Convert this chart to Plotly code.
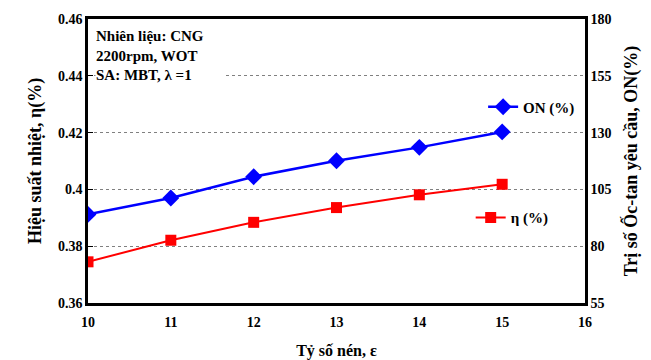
import plotly.graph_objects as go

compression_ratio = [10, 11, 12, 13, 14, 15]
efficiency = [0.3745, 0.3821, 0.3884, 0.3936, 0.3981, 0.4018]
octane_number = [94.0, 101.2, 110.6, 117.6, 123.5, 130.3]

left_ticks = [0.36, 0.38, 0.4, 0.42, 0.44, 0.46]
left_ticktext = ["0.36", "0.38", "0.4", "0.42", "0.44", "0.46"]
right_ticks = [55, 80, 105, 130, 155, 180]
x_ticks = [10, 11, 12, 13, 14, 15, 16]

FONT = "Liberation Serif"

fig = go.Figure()
fig.add_trace(go.Scatter(
    x=compression_ratio, y=octane_number, yaxis="y2", name="ON (%)",
    mode="lines+markers",
    line=dict(color="#0000FF", width=2.5),
    marker=dict(symbol="diamond", size=13, color="#0000FF"),
    legend="legend", showlegend=True,
))
fig.add_trace(go.Scatter(
    x=compression_ratio, y=efficiency, yaxis="y", name="η (%)",
    mode="lines+markers",
    line=dict(color="#FF0000", width=2),
    marker=dict(symbol="square", size=11, color="#FF0000"),
    legend="legend2", showlegend=True,
))

tickfont = dict(family=FONT, size=14, color="black", weight="bold")

fig.update_layout(
    width=651, height=360,
    margin=dict(l=88, r=66, t=19, b=57),
    paper_bgcolor="white", plot_bgcolor="white",
    font=dict(family=FONT, color="black"),
    showlegend=True,
    xaxis=dict(
        range=[10, 16], tickvals=x_ticks, showgrid=False, zeroline=False,
        showline=True, linecolor="black", linewidth=2.5, mirror=True,
        ticks="", tickfont=tickfont, ticklabelstandoff=4, automargin=False,
        title=dict(text="Tỷ số nén, ε", font=dict(family=FONT, size=16, weight="bold"), standoff=18),
    ),
    yaxis=dict(
        range=[0.36, 0.46], tickvals=left_ticks, ticktext=left_ticktext,
        showgrid=True, gridcolor="#808080", griddash="dot", gridwidth=1,
        zeroline=False, showline=True, linecolor="black", linewidth=2.5,
        ticks="inside", ticklen=5, tickcolor="black", tickfont=tickfont, automargin=False,
        title=dict(text="Hiệu suất nhiệt, η(%)", font=dict(family=FONT, size=18, weight="bold"), standoff=12),
    ),
    yaxis2=dict(
        range=[55, 180], tickvals=right_ticks, overlaying="y", side="right",
        showgrid=False, zeroline=False, showline=True, linecolor="black", linewidth=2.5,
        ticks="", tickfont=tickfont, automargin=False,
        title=dict(text="Trị số Ốc-tan yêu cầu, ON(%)", font=dict(family=FONT, size=18, weight="bold"), standoff=14),
    ),
    legend=dict(
        x=0.795, y=0.69, xanchor="left", yanchor="middle",
        bgcolor="rgba(0,0,0,0)", borderwidth=0,
        font=dict(family=FONT, size=15, weight="bold"),
        itemwidth=30,
    ),
    legend2=dict(
        x=0.77, y=0.30, xanchor="left", yanchor="middle",
        bgcolor="rgba(0,0,0,0)", borderwidth=0,
        font=dict(family=FONT, size=15, weight="bold"),
        itemwidth=30,
    ),
    annotations=[dict(
        text="Nhiên liệu: CNG<br>2200rpm, WOT<br>SA: MBT, λ =1",
        xref="paper", yref="paper", x=0.014, y=0.972,
        xanchor="left", yanchor="top", align="left", showarrow=False,
        width=127, bgcolor="white", borderpad=0,
        font=dict(family=FONT, size=15, weight="bold", color="black"),
    )],
)

fig.write_html("out.html")
